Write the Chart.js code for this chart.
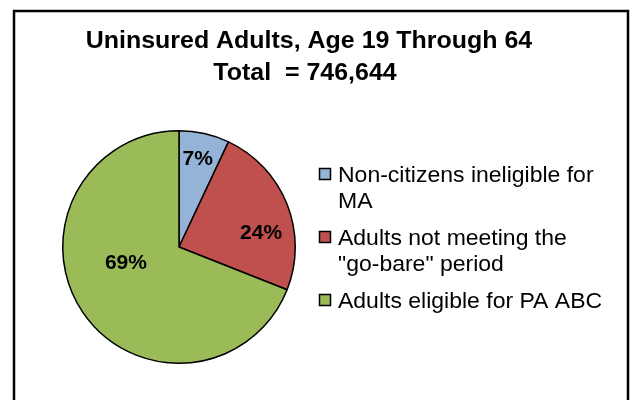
<!DOCTYPE html>
<html>
<head>
<meta charset="utf-8">
<script src="https://cdn.jsdelivr.net/npm/chart.js@4"></script>
<style>
  html, body { margin: 0; padding: 0; background: #fff; }
  #wrap { width: 631px; height: 400px; }
</style>
</head>
<body>
<div id="wrap"><canvas id="container" width="631" height="400"></canvas></div>
<script>
const titleLines = ['Uninsured Adults, Age 19 Through 64', 'Total  = 746,644'];
const categories = [
    ['Non-citizens ineligible for', 'MA'],
    ['Adults not meeting the', '"go-bare" period'],
    ['Adults eligible for PA ABC']
];
const shares = [7, 24, 69];
const sliceColors = ['#95B3D7', '#C0504D', '#9BBB59'];
// small nudges so the % labels sit where Excel put them
const labelNudge = [[6, -31], [28, 8], [-5, -16]];

const FONT = '"Liberation Sans", Arial, sans-serif';

// the original text is a bit stretched sideways, so draw it scaled in x
function wideText(ctx, text, x, y, sx) {
    ctx.save();
    ctx.translate(x, y);
    ctx.scale(sx, 1);
    ctx.fillText(text, 0, 0);
    ctx.restore();
}

// frame + title
const framePlugin = {
    id: 'frame',
    beforeDraw(chart) {
        const ctx = chart.ctx;
        ctx.save();
        ctx.fillStyle = '#fff';
        ctx.fillRect(0, 0, chart.width, chart.height);
        ctx.strokeStyle = '#000';
        ctx.lineWidth = 2.5;
        ctx.strokeRect(14, 11, 614, 420);
        ctx.fillStyle = '#000';
        ctx.font = 'bold 23px ' + FONT;
        ctx.textAlign = 'center';
        ctx.textBaseline = 'alphabetic';
        wideText(ctx, titleLines[0], 309, 48, 1.085);
        wideText(ctx, titleLines[1], 305, 80, 1.085);
        ctx.restore();
    }
};

// % labels inside slices and the legend at right
const labelsPlugin = {
    id: 'sliceLabels',
    afterDatasetsDraw(chart) {
        const ctx = chart.ctx;
        const meta = chart.getDatasetMeta(0);
        ctx.save();
        ctx.fillStyle = '#000';
        ctx.font = 'bold 21px ' + FONT;
        ctx.textAlign = 'center';
        ctx.textBaseline = 'middle';
        meta.data.forEach((arc, i) => {
            const p = arc.tooltipPosition();
            ctx.fillText(shares[i] + '%', p.x + labelNudge[i][0], p.y + labelNudge[i][1]);
        });

        // legend
        ctx.font = '22px ' + FONT;
        ctx.textAlign = 'left';
        ctx.textBaseline = 'alphabetic';
        let y = 182;
        categories.forEach((lines, i) => {
            ctx.fillStyle = sliceColors[i];
            ctx.fillRect(319.5, y - 13.5, 11, 11);
            ctx.strokeStyle = '#000';
            ctx.lineWidth = 1.5;
            ctx.strokeRect(319.5, y - 13.5, 11, 11);
            ctx.fillStyle = '#000';
            lines.forEach((line, j) => {
                wideText(ctx, line, 338, y + j * 26, 1.045);
            });
            y += (lines.length - 1) * 26 + 37;
        });
        ctx.restore();
    }
};

function createChart() {
    const ctx = document.getElementById('container').getContext('2d');
    new Chart(ctx, {
        type: 'pie',
        data: {
            labels: categories,
            datasets: [{
                data: shares,
                backgroundColor: sliceColors,
                borderColor: '#000',
                borderWidth: 1.5
            }]
        },
        options: {
            responsive: false,
            animation: false,
            layout: {
                padding: { left: 62, top: 130, right: 335, bottom: 36 }
            },
            plugins: {
                legend: { display: false },
                title: { display: false },
                tooltip: { enabled: false }
            }
        },
        plugins: [framePlugin, labelsPlugin]
    });
}

window.onload = createChart;
</script>
</body>
</html>
